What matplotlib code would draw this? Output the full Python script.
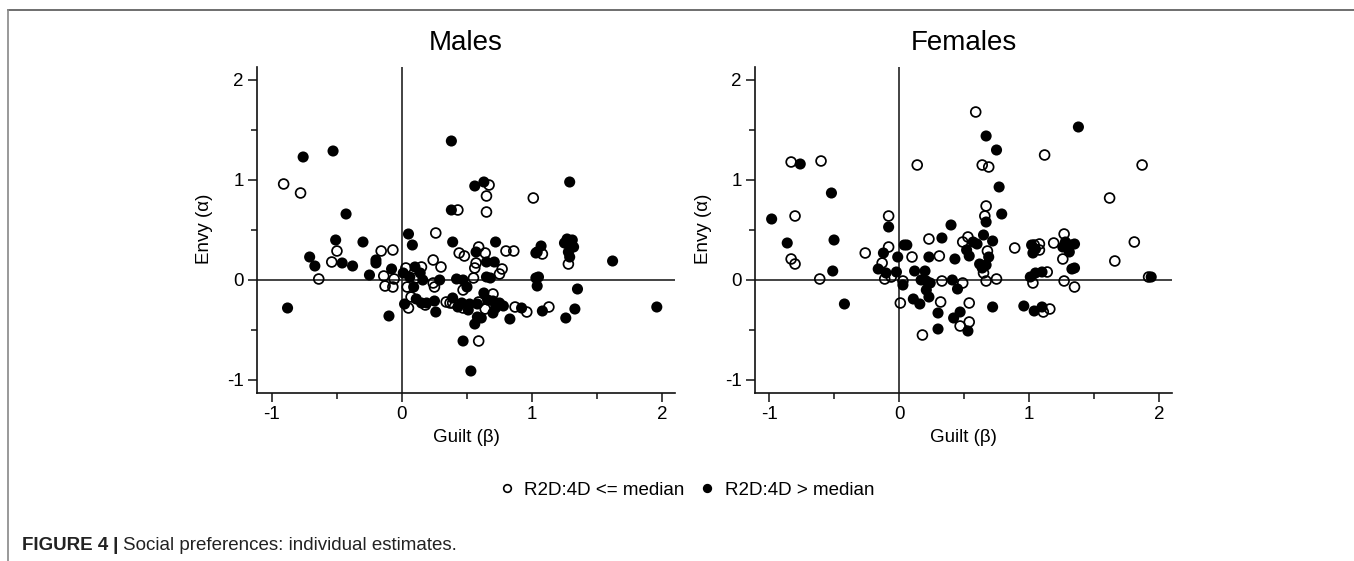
import matplotlib
matplotlib.use("Agg")
import matplotlib.pyplot as plt
from matplotlib.lines import Line2D

plt.rcParams['font.family'] = ['Liberation Sans', 'DejaVu Sans']
plt.rcParams['axes.unicode_minus'] = False

# ---------------- data ----------------
panel_titles = ["Males", "Females"]
legend_labels = ["R2D:4D <= median", "R2D:4D > median"]
x_ticks = [-1, 0, 1, 2]
y_ticks = [-1, 0, 1, 2]

males_low_x = [-0.91, -0.78, -0.50, -0.54, -0.64, -0.16, -0.07, -0.14, -0.13, -0.07, -0.06,
               0.26, 0.15, 0.03, 0.04, 0.11, 0.24, 0.30, 0.24, 0.25, 0.05, 0.07, 0.18, 0.34,
               0.37, 0.47, 0.55, 0.44, 0.48, 0.43, 0.67, 0.65, 0.65, 0.59, 0.64, 0.57, 0.56,
               0.77, 0.75, 0.80, 0.86, 1.01, 0.39, 0.47, 0.59, 0.70, 0.64, 0.59, 0.87, 0.96,
               1.13, 1.08, 1.28]
males_low_y = [0.96, 0.87, 0.29, 0.18, 0.01, 0.29, 0.30, 0.04, -0.06, -0.07, 0.01,
               0.47, 0.13, 0.12, -0.07, 0.02, 0.20, 0.13, -0.03, -0.07, -0.28, -0.17, -0.25, -0.22,
               -0.23, -0.10, 0.02, 0.27, 0.24, 0.70, 0.95, 0.84, 0.68, 0.33, 0.27, 0.17, 0.12,
               0.11, 0.06, 0.29, 0.29, 0.82, -0.23, -0.28, -0.22, -0.14, -0.29, -0.61, -0.27, -0.32,
               -0.27, 0.26, 0.16]

males_high_x = [-0.76, -0.53, -0.43, -0.51, -0.30, -0.71, -0.67, -0.46, -0.38, -0.88, -0.25,
                -0.20, -0.20, -0.08, -0.10, 0.01, 0.05, 0.08, 0.06, 0.10, 0.14, 0.09, 0.16, 0.29,
                0.02, 0.11, 0.15, 0.19, 0.25, 0.26, 0.42, 0.47, 0.50, 0.39, 0.38, 0.38, 0.56,
                0.63, 0.57, 0.65, 0.71, 0.72, 0.65, 0.68, 0.39, 0.43, 0.46, 0.51, 0.52, 0.58,
                0.63, 0.66, 0.70, 0.70, 0.72, 0.78, 0.75, 0.58, 0.56, 0.61, 0.47, 0.53, 0.83,
                0.92, 1.08, 1.04, 1.07, 1.03, 1.03, 1.05, 1.04, 1.25, 1.31, 1.28, 1.32, 1.27,
                1.29, 1.29, 1.35, 1.33, 1.26, 1.62, 1.96]
males_high_y = [1.23, 1.29, 0.66, 0.40, 0.38, 0.23, 0.14, 0.17, 0.14, -0.28, 0.05,
                0.20, 0.17, 0.11, -0.36, 0.07, 0.46, 0.35, 0.03, 0.13, 0.07, -0.07, 0.00, 0.00,
                -0.24, -0.19, -0.23, -0.23, -0.21, -0.32, 0.01, 0.00, -0.07, 0.38, 0.70, 1.39, 0.94,
                0.98, 0.28, 0.18, 0.18, 0.38, 0.03, 0.02, -0.18, -0.27, -0.23, -0.30, -0.24, -0.24,
                -0.13, -0.20, -0.21, -0.33, -0.28, -0.26, -0.23, -0.37, -0.44, -0.38, -0.61, -0.91, -0.39,
                -0.28, -0.31, 0.28, 0.34, 0.27, 0.02, 0.03, -0.06, 0.37, 0.40, 0.28, 0.33, 0.41,
                0.23, 0.98, -0.09, -0.29, -0.38, 0.19, -0.27]

females_low_x = [-0.83, -0.60, -0.80, -0.83, -0.80, -0.61, -0.26, -0.08, -0.08, -0.13, -0.11,
                 -0.06, 0.03, 0.01, 0.10, 0.14, 0.23, 0.31, 0.33, 0.32, 0.18, 0.49, 0.47, 0.54,
                 0.54, 0.59, 0.64, 0.69, 0.67, 0.66, 0.53, 0.49, 0.68, 0.65, 0.67, 0.75, 0.89,
                 1.04, 1.08, 1.08, 1.19, 1.03, 1.14, 1.11, 1.16, 1.27, 1.26, 1.27, 1.35, 1.12,
                 1.87, 1.62, 1.81, 1.66, 1.92]
females_low_y = [1.18, 1.19, 0.64, 0.21, 0.16, 0.01, 0.27, 0.64, 0.33, 0.17, 0.01,
                 0.03, -0.01, -0.23, 0.23, 1.15, 0.41, 0.24, -0.01, -0.22, -0.55, -0.03, -0.46, -0.42,
                 -0.23, 1.68, 1.15, 1.13, 0.74, 0.64, 0.43, 0.38, 0.29, 0.07, -0.01, 0.01, 0.32,
                 0.35, 0.36, 0.30, 0.37, -0.03, 0.08, -0.32, -0.29, 0.46, 0.21, -0.01, -0.07, 1.25,
                 1.15, 0.82, 0.38, 0.19, 0.03]

females_high_x = [-0.76, -0.52, -0.98, -0.86, -0.50, -0.51, -0.42, -0.08, -0.12, -0.16, -0.10,
                  -0.02, -0.01, 0.03, 0.04, 0.06, 0.12, 0.23, 0.33, 0.20, 0.17, 0.21, 0.24, 0.21,
                  0.23, 0.11, 0.16, 0.30, 0.30, 0.40, 0.43, 0.41, 0.45, 0.42, 0.47, 0.53, 0.67,
                  0.75, 0.77, 0.79, 0.67, 0.65, 0.57, 0.60, 0.72, 0.52, 0.54, 0.69, 0.62, 0.67,
                  0.64, 0.72, 1.02, 1.03, 1.05, 1.01, 1.05, 1.10, 0.96, 1.04, 1.10, 1.28, 1.26,
                  1.32, 1.35, 1.31, 1.33, 1.35, 1.38, 1.94]
females_high_y = [1.16, 0.87, 0.61, 0.37, 0.40, 0.09, -0.24, 0.53, 0.27, 0.11, 0.07,
                  0.08, 0.23, -0.05, 0.35, 0.35, 0.09, 0.23, 0.42, 0.09, 0.00, -0.01, -0.03, -0.10,
                  -0.17, -0.19, -0.24, -0.33, -0.49, 0.55, 0.21, 0.00, -0.09, -0.38, -0.32, -0.51, 1.44,
                  1.30, 0.93, 0.66, 0.58, 0.45, 0.38, 0.36, 0.39, 0.30, 0.24, 0.23, 0.16, 0.15,
                  0.12, -0.27, 0.35, 0.27, 0.31, 0.03, 0.07, 0.08, -0.26, -0.31, -0.27, 0.38, 0.33,
                  0.35, 0.36, 0.28, 0.11, 0.12, 1.53, 0.03]

panels = [
    (males_low_x, males_low_y, males_high_x, males_high_y),
    (females_low_x, females_low_y, females_high_x, females_high_y),
]

# ---------------- figure ----------------
W, H = 1354, 561
fig = plt.figure(figsize=(W / 100, H / 100), dpi=100)


def fx(px):
    return px / W


def fy(py):
    return 1 - py / H


axes_px = [(257, 675), (755, 1172)]
top_px, bot_px = 67, 393
xlims = [(-1.115, 2.10), (-1.108, 2.10)]
ylim = (-1.13, 2.13)

for i, (lx, ly, hx, hy) in enumerate(panels):
    left, right = axes_px[i]
    ax = fig.add_axes([fx(left), fy(bot_px), (right - left) / W, (bot_px - top_px) / H])
    ax.set_xlim(*xlims[i])
    ax.set_ylim(*ylim)
    for s in ['top', 'right']:
        ax.spines[s].set_visible(False)
    for s in ['left', 'bottom']:
        ax.spines[s].set_linewidth(1.2)
        ax.spines[s].set_color('#111111')
    ax.axhline(0, color='#222222', lw=1.2, zorder=1)
    ax.axvline(0, color='#222222', lw=1.2, zorder=1)
    ax.set_xticks(x_ticks)
    ax.set_xticks([-0.5, 0.5, 1.5], minor=True)
    ax.set_yticks(y_ticks)
    ax.set_yticks([-0.5, 0.5, 1.5], minor=True)
    ax.set_xticklabels([str(t) for t in x_ticks])
    ax.set_yticklabels([str(t) for t in y_ticks])
    ax.tick_params(which='major', direction='out', length=6.5, width=1.1,
                   labelsize=13.5, pad=3, color='#111111')
    ax.tick_params(which='minor', direction='out', length=4.3, width=1.1, color='#111111')
    ax.scatter(lx, ly, s=50, facecolors='none', edgecolors='black', linewidths=1.25, zorder=3)
    ax.scatter(hx, hy, s=64, c='black', edgecolors='none', zorder=4)
    ax.set_facecolor('none')

    cx = (left + right) / 2
    fig.text(fx(cx), fy(43), panel_titles[i], ha='center', va='center', fontsize=20)
    fig.text(fx(cx), fy(438), "Guilt (β)", ha='center', va='center', fontsize=13.5)
    fig.text(fx(left - 52), fy(229), "Envy (α)", ha='center', va='center',
             rotation=90, fontsize=13.5)

handles = [
    Line2D([], [], marker='o', ls='none', mfc='white', mec='black', ms=5.5, mew=1.2),
    Line2D([], [], marker='o', ls='none', mfc='black', mec='black', ms=5.5, mew=1.2),
]
fig.legend(handles, legend_labels, loc='center', bbox_to_anchor=(fx(686), fy(490)),
           ncol=2, frameon=False, fontsize=13.5, handlelength=1.0,
           handletextpad=0.45, columnspacing=0.7, borderpad=0, borderaxespad=0)

# caption
fig.text(fx(22), fy(550), "FIGURE 4", fontweight='bold', fontsize=13.5, va='baseline',
         color='#222222')
fig.text(fx(113), fy(550), "|", fontweight='bold', fontsize=14, va='baseline', color='#222222')
fig.text(fx(123), fy(550), "Social preferences: individual estimates.", fontsize=13.5,
         va='baseline', color='#222222')

# frame lines
fig.add_artist(Line2D([fx(8), 1.0], [fy(10), fy(10)], color='#555555', lw=1.2,
                      transform=fig.transFigure))
fig.add_artist(Line2D([fx(8), fx(8)], [fy(10), 0.0], color='#888888', lw=1.2,
                      transform=fig.transFigure))

fig.savefig("out.png", dpi=100)
